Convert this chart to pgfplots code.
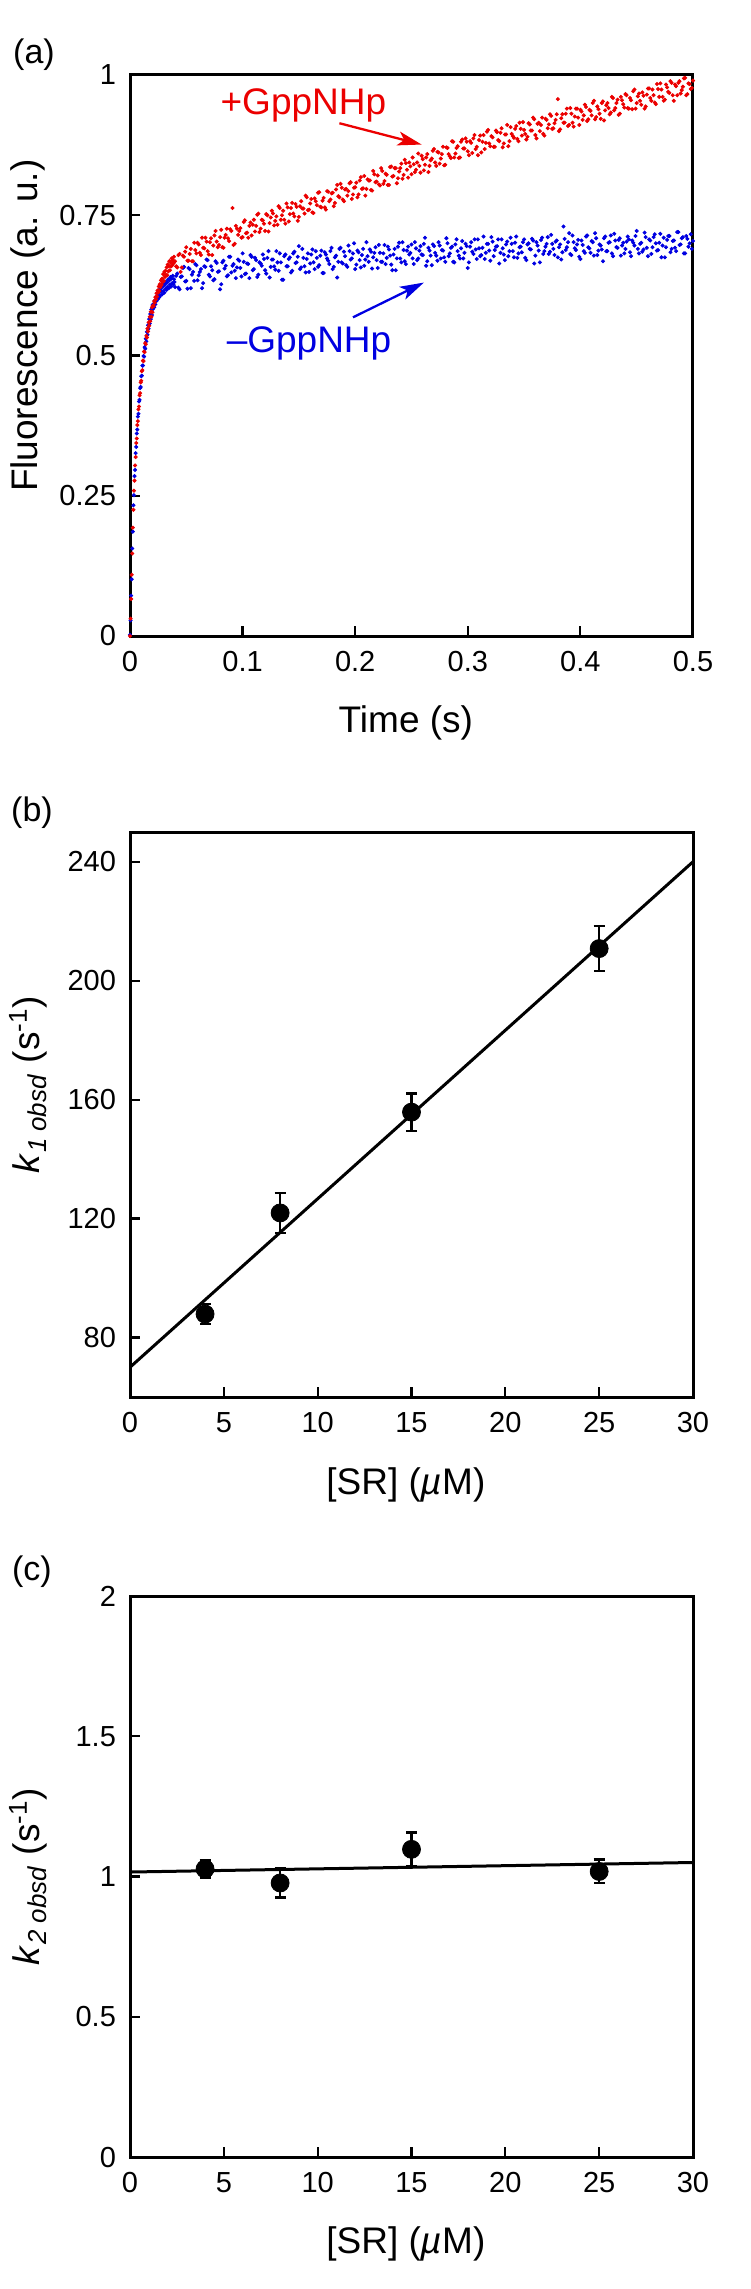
\documentclass[border=0pt]{standalone}
\usepackage{fontspec}
\setmainfont{Liberation Sans}
\usepackage{pgfplots}
\usepackage{pgfplotstable}
\pgfplotsset{compat=1.18}
\usetikzlibrary{arrows.meta}

\definecolor{ptred}{RGB}{235,0,0}
\definecolor{ptblue}{RGB}{0,0,225}

% stopped-flow trace: time, +GppNHp, -GppNHp
\pgfplotstableread{
t r b
0.0000 0.000 0.002
0.0005 0.031 0.028
0.0010 0.066 0.072
0.0015 0.109 0.101
0.0020 0.147 0.156
0.0025 0.193 0.186
0.0030 0.225 0.233
0.0035 0.259 0.251
0.0040 0.277 0.285
0.0045 0.304 0.296
0.0050 0.319 0.326
0.0055 0.344 0.337
0.0060 0.352 0.361
0.0065 0.376 0.368
0.0070 0.383 0.391
0.0075 0.404 0.396
0.0080 0.409 0.418
0.0085 0.429 0.421
0.0090 0.433 0.442
0.0095 0.452 0.444
0.0100 0.455 0.463
0.0105 0.472 0.464
0.0110 0.474 0.482
0.0115 0.491 0.482
0.0120 0.490 0.499
0.0125 0.507 0.498
0.0130 0.506 0.515
0.0135 0.522 0.512
0.0140 0.520 0.530
0.0145 0.535 0.525
0.0150 0.532 0.542
0.0155 0.548 0.537
0.0160 0.543 0.554
0.0165 0.559 0.548
0.0170 0.553 0.565
0.0175 0.569 0.557
0.0180 0.561 0.574
0.0185 0.578 0.565
0.0190 0.569 0.582
0.0195 0.586 0.572
0.0200 0.577 0.590
0.0205 0.589 0.583
0.0210 0.588 0.592
0.0215 0.597 0.586
0.0220 0.594 0.598
0.0225 0.604 0.591
0.0230 0.600 0.604
0.0235 0.611 0.597
0.0240 0.605 0.600
0.0245 0.616 0.608
0.0250 0.612 0.601
0.0255 0.623 0.612
0.0260 0.615 0.604
0.0265 0.627 0.618
0.0270 0.622 0.607
0.0275 0.634 0.614
0.0280 0.626 0.621
0.0285 0.637 0.609
0.0290 0.631 0.623
0.0295 0.645 0.615
0.0300 0.633 0.628
0.0305 0.649 0.612
0.0310 0.640 0.626
0.0315 0.651 0.619
0.0320 0.644 0.632
0.0325 0.657 0.617
0.0330 0.643 0.630
0.0335 0.662 0.622
0.0340 0.650 0.636
0.0345 0.659 0.620
0.0350 0.668 0.634
0.0355 0.652 0.626
0.0360 0.666 0.640
0.0365 0.659 0.623
0.0370 0.673 0.637
0.0375 0.661 0.629
0.0380 0.670 0.642
0.0385 0.664 0.627
0.0390 0.676 0.636
0.0395 0.667 0.631
0.040 0.668 0.622
0.042 0.657 0.646
0.044 0.681 0.618
0.046 0.657 0.641
0.048 0.676 0.658
0.050 0.693 0.633
0.052 0.669 0.656
0.054 0.690 0.620
0.056 0.668 0.649
0.058 0.688 0.663
0.060 0.701 0.634
0.062 0.683 0.649
0.064 0.710 0.620
0.066 0.691 0.659
0.068 0.703 0.671
0.070 0.680 0.644
0.072 0.709 0.659
0.074 0.696 0.634
0.076 0.722 0.668
0.078 0.693 0.649
0.080 0.711 0.618
0.082 0.693 0.666
0.084 0.710 0.655
0.086 0.726 0.641
0.088 0.704 0.676
0.090 0.722 0.648
0.091 0.763 0.660
0.092 0.697 0.663
0.094 0.731 0.638
0.096 0.715 0.671
0.098 0.727 0.656
0.100 0.711 0.682
0.102 0.741 0.645
0.104 0.719 0.664
0.106 0.731 0.638
0.108 0.714 0.676
0.110 0.742 0.654
0.112 0.731 0.670
0.114 0.753 0.644
0.116 0.726 0.664
0.118 0.741 0.680
0.120 0.722 0.652
0.122 0.750 0.674
0.124 0.736 0.639
0.126 0.758 0.671
0.128 0.732 0.659
0.130 0.748 0.686
0.132 0.766 0.651
0.134 0.742 0.666
0.136 0.758 0.635
0.138 0.735 0.680
0.140 0.764 0.659
0.142 0.752 0.675
0.144 0.772 0.651
0.146 0.748 0.685
0.148 0.765 0.666
0.150 0.747 0.695
0.152 0.775 0.657
0.154 0.762 0.674
0.156 0.785 0.648
0.158 0.759 0.682
0.160 0.771 0.664
0.162 0.755 0.689
0.164 0.780 0.654
0.166 0.768 0.674
0.168 0.791 0.661
0.170 0.764 0.687
0.172 0.781 0.647
0.174 0.760 0.680
0.176 0.792 0.669
0.178 0.778 0.686
0.180 0.790 0.654
0.182 0.772 0.675
0.184 0.804 0.639
0.186 0.782 0.690
0.188 0.799 0.666
0.190 0.775 0.685
0.192 0.797 0.661
0.194 0.793 0.696
0.196 0.809 0.671
0.198 0.787 0.682
0.200 0.800 0.654
0.202 0.782 0.687
0.204 0.812 0.670
0.206 0.797 0.679
0.208 0.820 0.660
0.210 0.797 0.702
0.212 0.812 0.667
0.214 0.795 0.685
0.216 0.829 0.675
0.218 0.809 0.693
0.220 0.821 0.656
0.222 0.803 0.683
0.224 0.829 0.667
0.226 0.811 0.697
0.228 0.822 0.674
0.230 0.804 0.689
0.232 0.837 0.662
0.234 0.820 0.680
0.236 0.834 0.652
0.238 0.816 0.694
0.240 0.834 0.673
0.242 0.815 0.702
0.244 0.849 0.668
0.246 0.831 0.687
0.248 0.844 0.680
0.250 0.823 0.698
0.252 0.841 0.663
0.254 0.831 0.691
0.256 0.860 0.673
0.258 0.826 0.695
0.260 0.850 0.679
0.262 0.840 0.710
0.264 0.859 0.668
0.266 0.838 0.687
0.268 0.851 0.661
0.270 0.868 0.695
0.272 0.838 0.678
0.274 0.862 0.702
0.276 0.851 0.673
0.278 0.872 0.687
0.280 0.840 0.667
0.282 0.870 0.700
0.284 0.855 0.682
0.286 0.882 0.694
0.288 0.853 0.666
0.290 0.870 0.707
0.292 0.852 0.678
0.294 0.881 0.691
0.296 0.869 0.673
0.298 0.887 0.699
0.300 0.864 0.656
0.302 0.882 0.694
0.304 0.861 0.685
0.306 0.893 0.707
0.308 0.872 0.672
0.310 0.884 0.691
0.312 0.862 0.679
0.314 0.893 0.712
0.316 0.879 0.683
0.318 0.902 0.699
0.320 0.873 0.669
0.322 0.889 0.703
0.324 0.872 0.688
0.326 0.898 0.695
0.328 0.882 0.664
0.330 0.905 0.707
0.332 0.878 0.680
0.334 0.894 0.698
0.336 0.873 0.677
0.338 0.907 0.710
0.340 0.891 0.686
0.342 0.904 0.701
0.344 0.886 0.674
0.346 0.915 0.693
0.348 0.892 0.684
0.350 0.902 0.707
0.352 0.885 0.670
0.354 0.914 0.700
0.356 0.901 0.689
0.358 0.924 0.705
0.360 0.893 0.678
0.362 0.913 0.696
0.364 0.900 0.666
0.366 0.924 0.710
0.368 0.892 0.686
0.370 0.920 0.699
0.372 0.912 0.681
0.374 0.927 0.715
0.376 0.905 0.690
0.378 0.920 0.703
0.380 0.957 0.675
0.382 0.903 0.698
0.384 0.930 0.684
0.386 0.915 0.708
0.388 0.940 0.693
0.390 0.911 0.718
0.392 0.931 0.679
0.394 0.908 0.702
0.396 0.940 0.688
0.398 0.924 0.706
0.400 0.938 0.672
0.402 0.920 0.697
0.404 0.947 0.683
0.406 0.918 0.714
0.408 0.938 0.691
0.410 0.928 0.704
0.412 0.954 0.678
0.414 0.925 0.709
0.416 0.939 0.687
0.418 0.922 0.696
0.420 0.953 0.668
0.422 0.937 0.712
0.424 0.950 0.686
0.426 0.930 0.702
0.428 0.961 0.682
0.430 0.937 0.717
0.432 0.950 0.693
0.434 0.929 0.706
0.436 0.961 0.678
0.438 0.948 0.701
0.440 0.966 0.690
0.442 0.941 0.712
0.444 0.959 0.684
0.446 0.939 0.705
0.448 0.974 0.696
0.450 0.950 0.722
0.452 0.967 0.682
0.454 0.947 0.701
0.456 0.963 0.689
0.458 0.944 0.711
0.460 0.976 0.677
0.462 0.959 0.705
0.464 0.974 0.693
0.466 0.951 0.716
0.468 0.984 0.687
0.470 0.961 0.701
0.472 0.974 0.675
0.474 0.954 0.710
0.476 0.983 0.693
0.478 0.970 0.713
0.480 0.989 0.684
0.482 0.964 0.704
0.484 0.983 0.692
0.486 0.964 0.720
0.488 0.989 0.697
0.490 0.973 0.709
0.492 0.994 0.682
0.494 0.964 0.713
0.496 0.985 0.694
0.498 0.975 0.716
0.500 0.990 0.704
0.041 0.659 0.642
0.043 0.679 0.621
0.045 0.649 0.640
0.047 0.678 0.656
0.049 0.685 0.632
0.051 0.669 0.619
0.053 0.681 0.654
0.055 0.668 0.644
0.057 0.701 0.633
0.059 0.682 0.661
0.061 0.698 0.643
0.063 0.679 0.654
0.065 0.692 0.629
0.067 0.710 0.658
0.069 0.686 0.670
0.071 0.702 0.641
0.073 0.679 0.652
0.075 0.714 0.636
0.077 0.703 0.665
0.079 0.697 0.650
0.081 0.724 0.627
0.083 0.692 0.669
0.085 0.715 0.660
0.087 0.709 0.643
0.089 0.725 0.676
0.093 0.699 0.651
0.095 0.726 0.657
0.097 0.722 0.669
0.099 0.710 0.641
0.101 0.738 0.667
0.103 0.718 0.646
0.105 0.710 0.663
0.107 0.737 0.679
0.109 0.733 0.652
0.111 0.721 0.674
0.113 0.751 0.640
0.115 0.720 0.666
0.117 0.742 0.660
0.119 0.735 0.672
0.121 0.752 0.646
0.123 0.721 0.686
0.125 0.746 0.658
0.127 0.753 0.671
0.129 0.740 0.653
0.131 0.733 0.666
0.133 0.763 0.682
0.135 0.750 0.635
0.137 0.742 0.677
0.139 0.771 0.659
0.141 0.739 0.672
0.143 0.763 0.648
0.145 0.753 0.682
0.147 0.770 0.665
0.149 0.740 0.676
0.151 0.766 0.654
0.153 0.762 0.690
0.155 0.753 0.659
0.157 0.782 0.672
0.159 0.760 0.649
0.161 0.779 0.680
0.163 0.754 0.666
0.165 0.775 0.686
0.167 0.790 0.658
0.169 0.765 0.678
0.171 0.776 0.647
0.173 0.764 0.684
0.175 0.793 0.673
0.177 0.775 0.663
0.179 0.789 0.692
0.181 0.766 0.658
0.183 0.796 0.678
0.185 0.784 0.667
0.187 0.806 0.692
0.189 0.778 0.664
0.191 0.796 0.677
0.193 0.785 0.658
0.195 0.807 0.686
0.197 0.779 0.673
0.199 0.799 0.700
0.201 0.808 0.662
0.203 0.787 0.684
0.205 0.818 0.657
0.207 0.798 0.690
0.209 0.785 0.671
0.211 0.814 0.677
0.213 0.812 0.689
0.215 0.794 0.655
0.217 0.823 0.683
0.219 0.810 0.670
0.221 0.805 0.697
0.223 0.834 0.667
0.225 0.806 0.682
0.227 0.824 0.663
0.229 0.804 0.694
0.231 0.836 0.678
0.233 0.819 0.652
0.235 0.834 0.690
0.237 0.807 0.673
0.239 0.828 0.701
0.241 0.842 0.666
0.243 0.822 0.688
0.245 0.843 0.663
0.247 0.817 0.694
0.249 0.837 0.683
0.251 0.853 0.673
0.253 0.827 0.702
0.255 0.844 0.670
0.257 0.838 0.687
0.259 0.856 0.680
0.261 0.830 0.699
0.263 0.853 0.660
0.265 0.827 0.692
0.267 0.848 0.678
0.269 0.865 0.698
0.271 0.844 0.683
0.273 0.863 0.669
0.275 0.842 0.696
0.277 0.859 0.688
0.279 0.839 0.675
0.281 0.871 0.709
0.283 0.859 0.677
0.285 0.852 0.692
0.287 0.881 0.667
0.289 0.860 0.698
0.291 0.873 0.686
0.293 0.853 0.673
0.295 0.885 0.704
0.297 0.869 0.683
0.299 0.881 0.695
0.301 0.857 0.666
0.303 0.879 0.702
0.305 0.887 0.681
0.307 0.868 0.689
0.309 0.857 0.707
0.311 0.892 0.677
0.313 0.881 0.692
0.315 0.868 0.672
0.317 0.899 0.699
0.319 0.878 0.687
0.321 0.891 0.711
0.323 0.872 0.677
0.325 0.901 0.694
0.327 0.884 0.707
0.329 0.897 0.683
0.331 0.871 0.691
0.333 0.894 0.670
0.335 0.911 0.703
0.337 0.882 0.686
0.339 0.895 0.699
0.341 0.888 0.675
0.343 0.909 0.712
0.345 0.882 0.682
0.347 0.904 0.694
0.349 0.916 0.702
0.351 0.895 0.674
0.353 0.890 0.698
0.355 0.912 0.690
0.357 0.901 0.708
0.359 0.921 0.664
0.361 0.887 0.702
0.363 0.915 0.687
0.365 0.911 0.706
0.367 0.895 0.681
0.369 0.922 0.694
0.371 0.905 0.711
0.373 0.930 0.685
0.375 0.904 0.699
0.377 0.914 0.679
0.379 0.930 0.705
0.381 0.900 0.693
0.383 0.923 0.671
0.385 0.915 0.730
0.387 0.931 0.688
0.389 0.909 0.702
0.391 0.941 0.681
0.393 0.915 0.714
0.395 0.926 0.691
0.397 0.940 0.698
0.399 0.911 0.676
0.401 0.935 0.705
0.403 0.928 0.686
0.405 0.943 0.712
0.407 0.921 0.693
0.409 0.936 0.683
0.411 0.950 0.702
0.413 0.921 0.718
0.415 0.944 0.679
0.417 0.931 0.698
0.419 0.950 0.689
0.421 0.919 0.709
0.423 0.946 0.686
0.425 0.941 0.701
0.427 0.933 0.714
0.429 0.959 0.677
0.431 0.941 0.705
0.433 0.956 0.692
0.435 0.931 0.709
0.437 0.955 0.696
0.439 0.942 0.682
0.441 0.964 0.703
0.443 0.940 0.707
0.445 0.955 0.677
0.447 0.971 0.701
0.449 0.940 0.713
0.451 0.962 0.690
0.453 0.954 0.699
0.455 0.969 0.685
0.457 0.940 0.719
0.459 0.965 0.692
0.461 0.976 0.707
0.463 0.954 0.681
0.465 0.964 0.711
0.467 0.948 0.700
0.469 0.975 0.688
0.471 0.985 0.717
0.473 0.961 0.696
0.475 0.956 0.675
0.477 0.978 0.706
0.479 0.968 0.713
0.481 0.986 0.690
0.483 0.954 0.705
0.485 0.980 0.686
0.487 0.986 0.720
0.489 0.967 0.698
0.491 0.979 0.711
0.493 0.995 0.682
0.495 0.966 0.708
0.497 0.984 0.700
0.499 0.977 0.690
}\traceA

% k1 obsd vs [SR]
\pgfplotstableread{
x y e
4 87.9 3.3
8 121.9 6.7
15 155.8 6.3
25 210.8 7.5
}\rateOne

% k2 obsd vs [SR]
\pgfplotstableread{
x y e
4 1.027 0.030
8 0.977 0.052
15 1.097 0.060
25 1.018 0.042
}\rateTwo

\pgfplotsset{
  panel/.style={
    scale only axis, width=281.5pt,
    tick align=inside, xtick pos=left, ytick pos=left,
    major tick length=5pt,
    major tick style={line width=1.1pt, black},
    axis line style={line width=1.5pt},
    /pgf/number format/assume math mode=true,
    tick label style={font=\fontsize{14.5}{16}\selectfont},
    xticklabel style={yshift=-4pt},
    yticklabel style={xshift=-3.5pt},
    every axis x label/.style={at={(axis description cs:0.49,-0.155)}, anchor=center,
      font=\fontsize{18.5}{21}\selectfont},
    every axis y label/.style={at={(axis description cs:-0.181,0.5)}, anchor=center, rotate=90,
      font=\fontsize{18.5}{21}\selectfont},
  },
  rates/.style={
    only marks, mark=*, black, mark size=4.5pt,
    error bars/.cd, y dir=both, y explicit,
    error bar style={line width=1.2pt, black},
    error mark options={rotate=90, line width=1.2pt, mark size=2.75pt, black},
  },
}

\begin{document}
\begin{tikzpicture}
\path[use as bounding box] (0,0) rectangle (375pt,-1144.5pt);

% (a)
\begin{axis}[panel, at={(65pt,-318pt)}, anchor=south west, height=280.5pt,
  xmin=0, xmax=0.5, ymin=0, ymax=1,
  xtick={0,0.1,0.2,0.3,0.4,0.5},
  ytick={0,0.25,0.5,0.75,1},
  xlabel={Time (s)},
  ylabel={Fluorescence (a. u.)},
  ylabel style={at={(axis description cs:-0.181,0.553)}},
]
\addplot[only marks, mark=*, mark size=0.8pt, ptblue] table[x=t, y=b] {\traceA};
\addplot[only marks, mark=*, mark size=0.8pt, ptred] table[x=t, y=r] {\traceA};
\node[ptred, font=\fontsize{18.5}{21}\selectfont] at (axis cs:0.154,0.945) {+GppNHp};
\node[ptblue, font=\fontsize{18.5}{21}\selectfont] at (axis cs:0.159,0.521) {\textendash GppNHp};
\draw[ptred, line width=1.15pt, -{Stealth[length=12pt, width=7pt, inset=3pt]}]
  (axis cs:0.186,0.914) -- (axis cs:0.259,0.876);
\draw[ptblue, line width=1.15pt, -{Stealth[length=12pt, width=7pt, inset=3pt]}]
  (axis cs:0.198,0.568) -- (axis cs:0.261,0.630);
\end{axis}

% (b)
\begin{axis}[panel, at={(65pt,-698.5pt)}, anchor=south west, height=282.5pt,
  xmin=0, xmax=30, ymin=60, ymax=250,
  xtick={0,5,10,15,20,25,30},
  ytick={80,120,160,200,240},
  xlabel={[SR] (\textit{µ}M)},
  ylabel={\textit{k}\textsubscript{\textit{1 obsd}} (s\textsuperscript{-1})},
  ylabel style={at={(axis description cs:-0.181,0.553)}},
]
\addplot[black, line width=1.5pt] coordinates {(0,70) (30,240)};
\addplot[rates] table[x=x, y=y, y error=e] {\rateOne};
\end{axis}

% (c)
\begin{axis}[panel, at={(65pt,-1078.5pt)}, anchor=south west, height=280.5pt,
  xmin=0, xmax=30, ymin=0, ymax=2,
  xtick={0,5,10,15,20,25,30},
  ytick={0,0.5,1,1.5,2},
  xlabel={[SR] (\textit{µ}M)},
  ylabel={\textit{k}\textsubscript{\textit{2 obsd}} (s\textsuperscript{-1})},
]
\addplot[black, line width=1.5pt] coordinates {(0,1.016) (30,1.050)};
\addplot[rates] table[x=x, y=y, y error=e] {\rateTwo};
\end{axis}

\node[font=\fontsize{17}{20}\selectfont] at (17pt,-27.5pt) {(a)};
\node[font=\fontsize{17}{20}\selectfont] at (16pt,-406.5pt) {(b)};
\node[font=\fontsize{17}{20}\selectfont] at (16pt,-786pt) {(c)};
\end{tikzpicture}
\end{document}
